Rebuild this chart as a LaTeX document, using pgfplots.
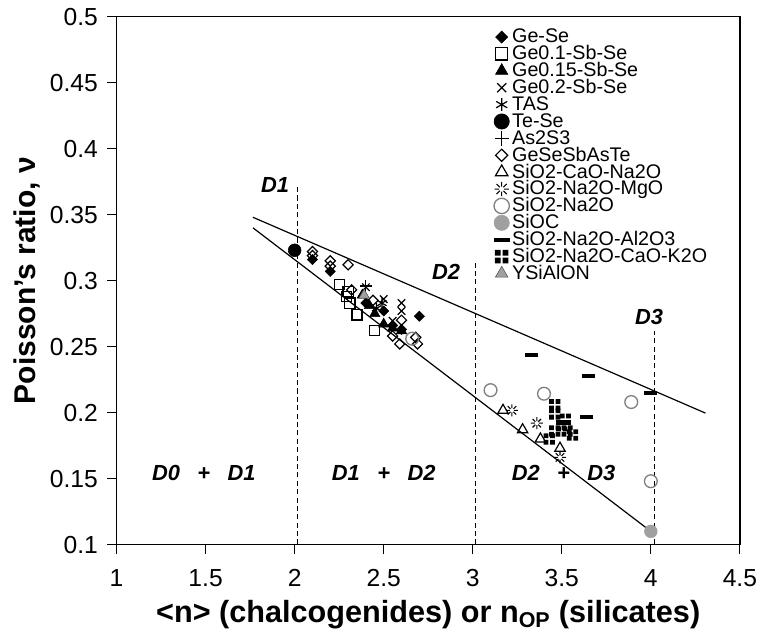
\documentclass[border=0pt]{standalone}
\usepackage{fontspec}
\setmainfont{Liberation Sans}
\usepackage{pgfplots}
\pgfplotsset{compat=1.18}
\usetikzlibrary{plotmarks}

% four small filled squares
\pgfdeclareplotmark{quad}{%
  \pgfpathrectangle{\pgfqpoint{-\pgfplotmarksize}{-\pgfplotmarksize}}{\pgfqpoint{0.85\pgfplotmarksize}{0.85\pgfplotmarksize}}%
  \pgfpathrectangle{\pgfqpoint{0.15\pgfplotmarksize}{-\pgfplotmarksize}}{\pgfqpoint{0.85\pgfplotmarksize}{0.85\pgfplotmarksize}}%
  \pgfpathrectangle{\pgfqpoint{-\pgfplotmarksize}{0.15\pgfplotmarksize}}{\pgfqpoint{0.85\pgfplotmarksize}{0.85\pgfplotmarksize}}%
  \pgfpathrectangle{\pgfqpoint{0.15\pgfplotmarksize}{0.15\pgfplotmarksize}}{\pgfqpoint{0.85\pgfplotmarksize}{0.85\pgfplotmarksize}}%
  \pgfusepathqfill}
% radial spokes
\pgfdeclareplotmark{burst}{%
  \pgfpathmoveto{\pgfpointpolar{0}{0.35\pgfplotmarksize}}\pgfpathlineto{\pgfpointpolar{0}{\pgfplotmarksize}}%
  \pgfpathmoveto{\pgfpointpolar{45}{0.35\pgfplotmarksize}}\pgfpathlineto{\pgfpointpolar{45}{\pgfplotmarksize}}%
  \pgfpathmoveto{\pgfpointpolar{90}{0.35\pgfplotmarksize}}\pgfpathlineto{\pgfpointpolar{90}{\pgfplotmarksize}}%
  \pgfpathmoveto{\pgfpointpolar{135}{0.35\pgfplotmarksize}}\pgfpathlineto{\pgfpointpolar{135}{\pgfplotmarksize}}%
  \pgfpathmoveto{\pgfpointpolar{180}{0.35\pgfplotmarksize}}\pgfpathlineto{\pgfpointpolar{180}{\pgfplotmarksize}}%
  \pgfpathmoveto{\pgfpointpolar{225}{0.35\pgfplotmarksize}}\pgfpathlineto{\pgfpointpolar{225}{\pgfplotmarksize}}%
  \pgfpathmoveto{\pgfpointpolar{270}{0.35\pgfplotmarksize}}\pgfpathlineto{\pgfpointpolar{270}{\pgfplotmarksize}}%
  \pgfpathmoveto{\pgfpointpolar{315}{0.35\pgfplotmarksize}}\pgfpathlineto{\pgfpointpolar{315}{\pgfplotmarksize}}%
  \pgfusepathqstroke}

\definecolor{midgray}{RGB}{128,128,128}
\definecolor{lightgray2}{RGB}{160,160,160}
\newcommand{\dfont}{\bfseries\itshape\fontsize{16.4}{16.4}\selectfont}

\begin{document}
\begin{tikzpicture}
\begin{axis}[
    scale only axis,
    width=16.45cm, height=13.93cm,
    xmin=1, xmax=4.5, ymin=0.1, ymax=0.5,
    xtick={1,1.5,2,2.5,3,3.5,4,4.5},
    ytick={0.1,0.15,0.2,0.25,0.3,0.35,0.4,0.45,0.5},
    tick align=outside,
    xtick pos=left, ytick pos=left,
    major tick length=0.24cm,
    tick style={black, line width=0.8pt},
    axis line style={line width=1.1pt},
    /pgf/number format/assume math mode=true,
    ticklabel style={font=\fontsize{18.5}{20}\selectfont, inner sep=0pt},
    yticklabel style={xshift=-7pt},
    xticklabel style={yshift=-11.8pt},
    xlabel={\textless n\textgreater{} (chalcogenides) or n\textsubscript{OP} (silicates)},
    ylabel={Poisson's ratio, ν},
    xlabel style={font=\bfseries\fontsize{23}{25}\selectfont, inner sep=0pt, yshift=-9.75pt},
    ylabel style={font=\bfseries\fontsize{22.5}{24}\selectfont, inner sep=0pt},
    ylabel shift=7.5pt,
    legend style={at={(0.5985,0.983)}, anchor=north west, draw=none, fill=none,
        font=\fontsize{14.8}{14.8}\selectfont, row sep=0pt, column sep=0.07cm,
        nodes={inner sep=0pt, text height=10.74pt, text depth=1.94pt}},
    legend cell align=left,
    legend image code/.code={\draw[mark repeat=2,mark phase=2,every mark/.append style={scale=1.2}] plot coordinates {(0cm,0cm)(0.2cm,0cm)(0.4cm,0cm)};},
]
% boundary lines and dashed dividers
\addplot[black, line width=0.9pt, forget plot] coordinates {(1.766,0.348)(4.307,0.1996)};
\addplot[black, line width=0.9pt, forget plot] coordinates {(1.766,0.340)(4.0,0.110)};
\addplot[black, dash pattern=on 3.8pt off 2.5pt, line width=0.9pt, forget plot] coordinates {(2.015,0.1)(2.015,0.371)};
\addplot[black, dash pattern=on 3.8pt off 2.5pt, line width=0.9pt, forget plot] coordinates {(3.015,0.1)(3.015,0.313)};
\addplot[black, dash pattern=on 3.8pt off 2.5pt, line width=0.9pt, forget plot] coordinates {(4.02,0.1)(4.02,0.262)};

% Ge-Se
\addplot[only marks, mark=square*, mark size=2.7pt, mark options={rotate=45, fill=black}] coordinates {
(2.1,0.316) (2.2,0.307) (2.4,0.283) (2.5,0.277) (2.55,0.266) (2.6,0.263) (2.7,0.273)};
\addlegendentry{Ge-Se}
% Ge0.1-Sb-Se
\addplot[only marks, mark=square, mark size=3.8pt, mark options={line width=0.9pt, fill=white}] coordinates {
(2.25,0.297) (2.29,0.288) (2.31,0.283) (2.35,0.274) (2.45,0.262) (2.3,0.292)};
\addlegendentry{Ge0.1-Sb-Se}
% Ge0.15-Sb-Se
\addplot[only marks, mark=triangle*, mark size=4.5pt, mark options={fill=black}] coordinates {
(2.38,0.289) (2.42,0.281) (2.5,0.267) (2.55,0.264) (2.45,0.275) (2.6,0.262)};
\addlegendentry{Ge0.15-Sb-Se}
% Ge0.2-Sb-Se
\addplot[only marks, mark=x, mark size=4pt, mark options={line width=0.9pt}] coordinates {
(2.4,0.295) (2.6,0.283) (2.6,0.277) (2.55,0.2695) (2.5,0.286)};
\addlegendentry{Ge0.2-Sb-Se}
% TAS
\addplot[only marks, mark=asterisk, mark size=4pt, mark options={line width=0.9pt}] coordinates {
(2.49,0.283) (2.46,0.279)};
\addlegendentry{TAS}
% Te-Se
\addplot[only marks, mark=*, mark size=4.8pt, mark options={fill=black}] coordinates {
(2.0,0.323)};
\addlegendentry{Te-Se}
% As2S3
\addplot[only marks, mark=+, mark size=4.5pt, mark options={line width=0.9pt}] coordinates {
(2.40,0.296)};
\addlegendentry{As2S3}
% GeSeSbAsTe
\addplot[only marks, mark=square, mark size=2.7pt, mark options={rotate=45, line width=0.9pt, fill=white}] coordinates {
(2.1,0.322) (2.1,0.319) (2.2,0.315) (2.2,0.311) (2.3,0.312) (2.32,0.293) (2.44,0.285)
(2.6,0.270) (2.59,0.252) (2.68,0.257) (2.69,0.252) (2.55,0.258)};
\addlegendentry{GeSeSbAsTe}
% SiO2-CaO-Na2O
\addplot[only marks, mark=triangle, mark size=4.5pt, mark options={line width=0.9pt, fill=white}] coordinates {
(3.17,0.2017) (3.28,0.187) (3.38,0.180) (3.49,0.173)};
\addlegendentry{SiO2-CaO-Na2O}
% SiO2-Na2O-MgO
\addplot[only marks, mark=burst, mark size=4.5pt, mark options={line width=0.8pt}] coordinates {
(3.22,0.2017) (3.36,0.192) (3.49,0.166)};
\addlegendentry{SiO2-Na2O-MgO}
% SiO2-Na2O
\addplot[only marks, mark=o, mark size=4.8pt, mark options={draw=midgray, line width=1pt, fill=white}] coordinates {
(2.66,0.256) (3.10,0.217) (3.40,0.2143) (3.89,0.208) (4.0,0.148)};
\addlegendentry{SiO2-Na2O}
% SiOC
\addplot[only marks, mark=*, mark size=4.8pt, mark options={draw=lightgray2, fill=lightgray2}] coordinates {
(4.0,0.11)};
\addlegendentry{SiOC}
% SiO2-Na2O-Al2O3
\addplot[only marks, mark=-, mark size=4.9pt, mark options={line width=3pt}] coordinates {
(3.33,0.244) (3.65,0.228) (3.64,0.197) (4.0,0.215)};
\addlegendentry{SiO2-Na2O-Al2O3}
% SiO2-Na2O-CaO-K2O
\addplot[only marks, mark=quad, mark size=4.2pt] coordinates {
(3.46,0.206) (3.46,0.199) (3.52,0.195) (3.50,0.190) (3.53,0.186) (3.56,0.183) (3.43,0.180) (3.46,0.186)};
\addlegendentry{SiO2-Na2O-CaO-K2O}
% YSiAlON
\addplot[only marks, mark=triangle*, mark size=4.5pt, mark options={draw=black!70, fill=lightgray2}] coordinates {
(2.39,0.289)};
\addlegendentry{YSiAlON}

% region labels
\node[font=\dfont] at (axis cs:1.89,0.3725) {D1};
\node[font=\dfont] at (axis cs:2.85,0.307) {D2};
\node[font=\dfont] at (axis cs:3.99,0.2725) {D3};
\node[font=\dfont] at (axis cs:1.49,0.154) {D0\hspace{0.8em}+\hspace{0.8em}D1};
\node[font=\dfont] at (axis cs:2.50,0.154) {D1\hspace{0.8em}+\hspace{0.8em}D2};
\node[font=\dfont] at (axis cs:3.51,0.154) {D2\hspace{0.8em}+\hspace{0.8em}D3};
\end{axis}
% blank margins round the picture
\path ([xshift=-10pt]current axis.outer west);
\path ([yshift=6pt]current axis.outer north);
\path ([yshift=-2pt]current axis.outer south);
\end{tikzpicture}
\end{document}
